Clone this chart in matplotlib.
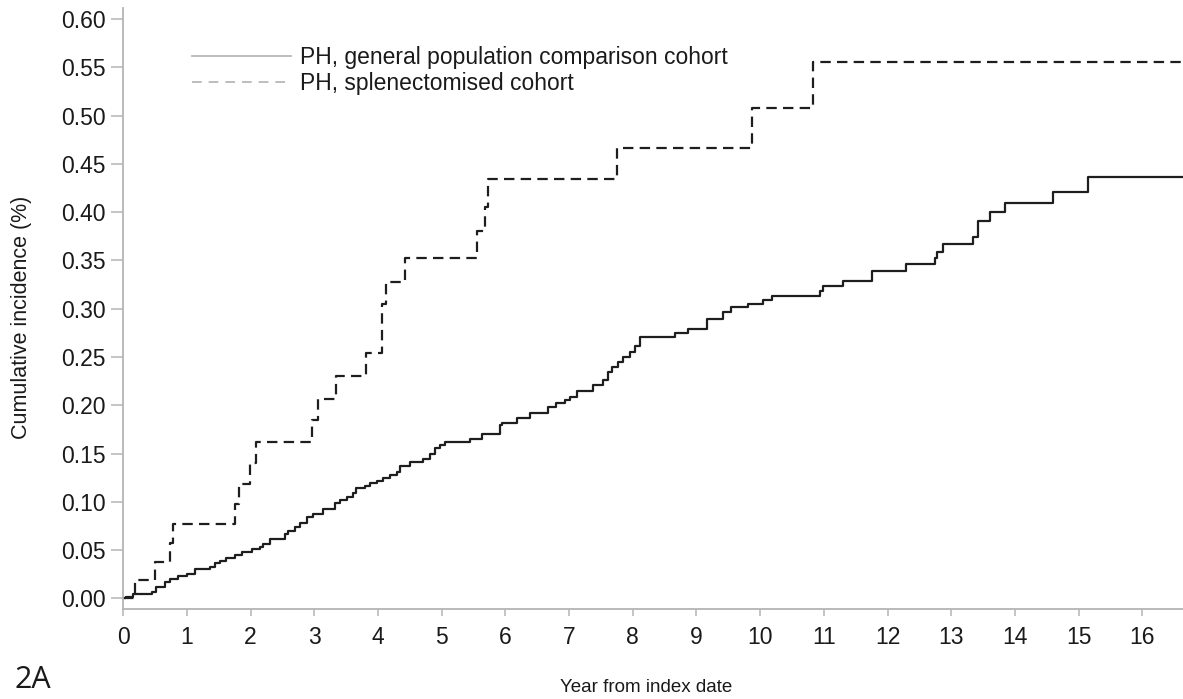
import matplotlib
matplotlib.use("Agg")
import matplotlib.pyplot as plt
from matplotlib.lines import Line2D

plt.rcParams['font.family'] = ['Liberation Sans', 'DejaVu Sans']
plt.rcParams['lines.scale_dashes'] = False

# cumulative incidence, general population comparison cohort (step points)
gen_years = [0, 0.05, 0.16, 0.45, 0.52, 0.65, 0.73, 0.86, 1.00, 1.13, 1.36, 1.44,
             1.52, 1.62, 1.75, 1.86, 2.02, 2.15, 2.20, 2.30, 2.54, 2.59, 2.70, 2.77,
             2.88, 2.98, 3.14, 3.32, 3.40, 3.51, 3.61, 3.66, 3.80, 3.87, 3.98, 4.08,
             4.19, 4.29, 4.34, 4.50, 4.71, 4.82, 4.89, 4.97, 5.05, 5.44, 5.63, 5.91,
             5.94, 6.18, 6.39, 6.67, 6.80, 6.94, 7.01, 7.12, 7.38, 7.54, 7.61, 7.67,
             7.77, 7.85, 7.96, 8.03, 8.11, 8.66, 8.87, 9.16, 9.42, 9.55, 9.81, 10.04,
             10.18, 10.94, 10.98, 11.30, 11.75, 12.29, 12.74, 12.78, 12.87, 13.34,
             13.42, 13.61, 13.84, 14.60, 15.15]
gen_inc = [0, 0.0019, 0.0047, 0.0070, 0.0122, 0.0174, 0.0198, 0.0233, 0.0254, 0.0302,
           0.0329, 0.0364, 0.0392, 0.0416, 0.0450, 0.0485, 0.0510, 0.0530, 0.0564,
           0.0620, 0.0664, 0.0700, 0.0743, 0.0785, 0.0847, 0.0872, 0.0923, 0.0985,
           0.1020, 0.1047, 0.1089, 0.1141, 0.1165, 0.1192, 0.1216, 0.1244, 0.1278,
           0.1313, 0.1372, 0.1416, 0.1440, 0.1500, 0.1555, 0.1589, 0.1623, 0.1648,
           0.1700, 0.1796, 0.1813, 0.1865, 0.1923, 0.1986, 0.2020, 0.2055, 0.2089,
           0.2151, 0.2210, 0.2262, 0.2348, 0.2400, 0.2451, 0.2497, 0.2555, 0.2614,
           0.2704, 0.2745, 0.2787, 0.2893, 0.2969, 0.3014, 0.3049, 0.3090, 0.3131,
           0.3187, 0.3235, 0.3290, 0.3393, 0.3463, 0.3521, 0.3590, 0.3670, 0.3746,
           0.3910, 0.3998, 0.4098, 0.4211, 0.4366]

# cumulative incidence, splenectomised cohort
spl_years = [0, 0.18, 0.50, 0.73, 0.785, 1.75, 1.82, 1.99, 2.08, 2.97, 3.06, 3.34,
             3.81, 4.07, 4.12, 4.43, 5.55, 5.68, 5.73, 7.75, 9.87, 10.83]
spl_inc = [0, 0.019, 0.038, 0.057, 0.077, 0.098, 0.119, 0.140, 0.162, 0.185, 0.2065,
           0.230, 0.2545, 0.305, 0.328, 0.352, 0.380, 0.4056, 0.434, 0.466, 0.508,
           0.5557]

yticks = [0.00, 0.05, 0.10, 0.15, 0.20, 0.25, 0.30, 0.35, 0.40, 0.45, 0.50, 0.55, 0.60]
xticks = list(range(0, 17))
labels = ["PH, general population comparison cohort", "PH, splenectomised cohort"]

X_MAX = 16.64
SPINE = '#b4b4b4'
FS = 16.5

fig = plt.figure(figsize=(11.83, 6.99), dpi=100)
ax = fig.add_axes([123.3 / 1183, 1 - 609 / 699, (1183 - 123.3) / 1183, (609 - 8) / 699])

ax.step(gen_years + [X_MAX], gen_inc + [gen_inc[-1]], where='post',
        color='#1e1e1e', lw=1.6)
ax.step(spl_years + [X_MAX], spl_inc + [spl_inc[-1]], where='post',
        color='#1e1e1e', lw=1.6, linestyle=(0, (7.5, 4.5)))

ax.set_xlim(0, X_MAX)
ax.set_ylim(-0.0109, 0.6113)
ax.set_xticks(xticks)
ax.set_yticks(yticks)
ax.set_yticklabels(["%.2f" % v for v in yticks])

for side in ['top', 'right']:
    ax.spines[side].set_visible(False)
for side in ['left', 'bottom']:
    ax.spines[side].set_color(SPINE)
    ax.spines[side].set_linewidth(1.3)

ax.tick_params(axis='x', direction='out', length=5, width=1.1, color=SPINE,
               labelsize=FS, labelcolor='#1a1a1a', pad=7)
ax.tick_params(axis='y', direction='out', length=9, width=1.1, color=SPINE,
               labelsize=FS, labelcolor='#1a1a1a', pad=3.5)

handles = [Line2D([], [], color='#b8b8b8', lw=1.3),
           Line2D([], [], color='#b8b8b8', lw=1.3, linestyle=(0, (7, 5)))]
ax.legend(handles, labels, loc='upper left', bbox_to_anchor=(192 / 1183, 1 - 46 / 699),
          bbox_transform=fig.transFigure, frameon=False, fontsize=FS,
          handlelength=4.3, handletextpad=0.42, labelspacing=0.14,
          borderpad=0, borderaxespad=0, labelcolor='#1a1a1a')

fig.text(22 / 1183, 1 - 317 / 699, "Cumulative incidence (%)", rotation=90,
         ha='center', va='center', fontsize=15.5, color='#1a1a1a')
fig.text(646 / 1183, 1 - 688 / 699, "Year from index date",
         ha='center', va='center', fontsize=13.5, color='#1a1a1a')
fig.text(14 / 1183, 1 - 680 / 699, "2A", ha='left', va='center',
         fontsize=22, family=['Open Sans', 'DejaVu Sans'], color='#1a1a1a')

fig.savefig("out.png", dpi=100)
